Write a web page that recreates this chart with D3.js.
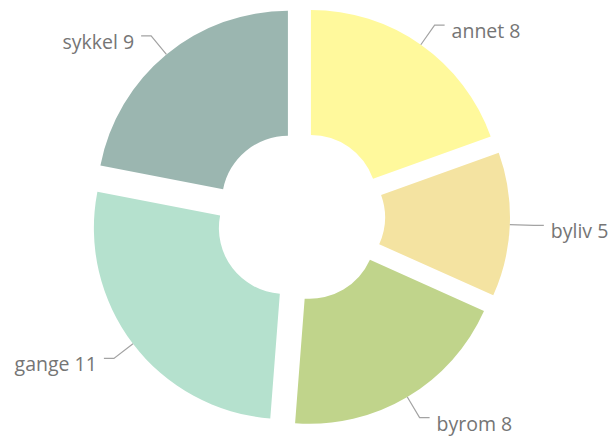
<!DOCTYPE html>
<html>
<head>
<meta charset="utf-8">
<script src="https://cdn.jsdelivr.net/npm/d3@7"></script>
<style>
  html, body { margin: 0; padding: 0; background: #ffffff; }
  svg { display: block; }
</style>
</head>
<body>
<svg id="chart" width="612" height="438"></svg>
<script>
// ---- data ----
const categories = ["annet", "byliv", "byrom", "gange", "sykkel"];
const values = [8, 5, 8, 11, 9];
const colors = ["#FFF99C", "#F4E3A1", "#C0D48B", "#B5E1CE", "#9BB6B0"];

// ---- layout ----
const W = 612, H = 438;
const cx = 300, cy = 216.5;
const outerR = 191, innerR = 66;
const explode = 19;
const leaderRadial = 24, leaderHoriz = 10, labelGap = 7;

const svg = d3.select("#chart");
const g = svg.append("g").attr("transform", `translate(${cx},${cy})`);

const data = categories.map((c, i) => ({ name: c, value: values[i], color: colors[i] }));

const pie = d3.pie().value(d => d.value).sort(null).startAngle(0).endAngle(2 * Math.PI);
const arc = d3.arc().innerRadius(innerR).outerRadius(outerR);
const arcs = pie(data);

const slices = g.selectAll("g.slice").data(arcs).join("g")
  .attr("class", "slice")
  .attr("transform", d => {
    const m = (d.startAngle + d.endAngle) / 2;
    return `translate(${Math.sin(m) * explode},${-Math.cos(m) * explode})`;
  });

slices.append("path")
  .attr("d", arc)
  .attr("fill", d => d.data.color);

// leader lines and labels
slices.each(function (d) {
  const m = (d.startAngle + d.endAngle) / 2;
  const sx = Math.sin(m), sy = -Math.cos(m);
  const p0 = [sx * outerR, sy * outerR];
  const p1 = [sx * (outerR + leaderRadial), sy * (outerR + leaderRadial)];
  const right = sx >= 0;
  const p2 = [p1[0] + (right ? leaderHoriz : -leaderHoriz), p1[1]];
  const sel = d3.select(this);
  sel.append("polyline")
    .attr("points", [p0, p1, p2].map(p => p.join(",")).join(" "))
    .attr("fill", "none")
    .attr("stroke", "#a3a3a3")
    .attr("stroke-width", 1.2);
  sel.append("text")
    .attr("x", p2[0] + (right ? labelGap : -labelGap))
    .attr("y", p2[1] + 13)
    .attr("text-anchor", right ? "start" : "end")
    .attr("font-family", "'Open Sans', Lato, sans-serif")
    .attr("font-size", 19.5)
    .attr("fill", "#757575")
    .text(`${d.data.name} ${d.data.value}`);
});
</script>
</body>
</html>
